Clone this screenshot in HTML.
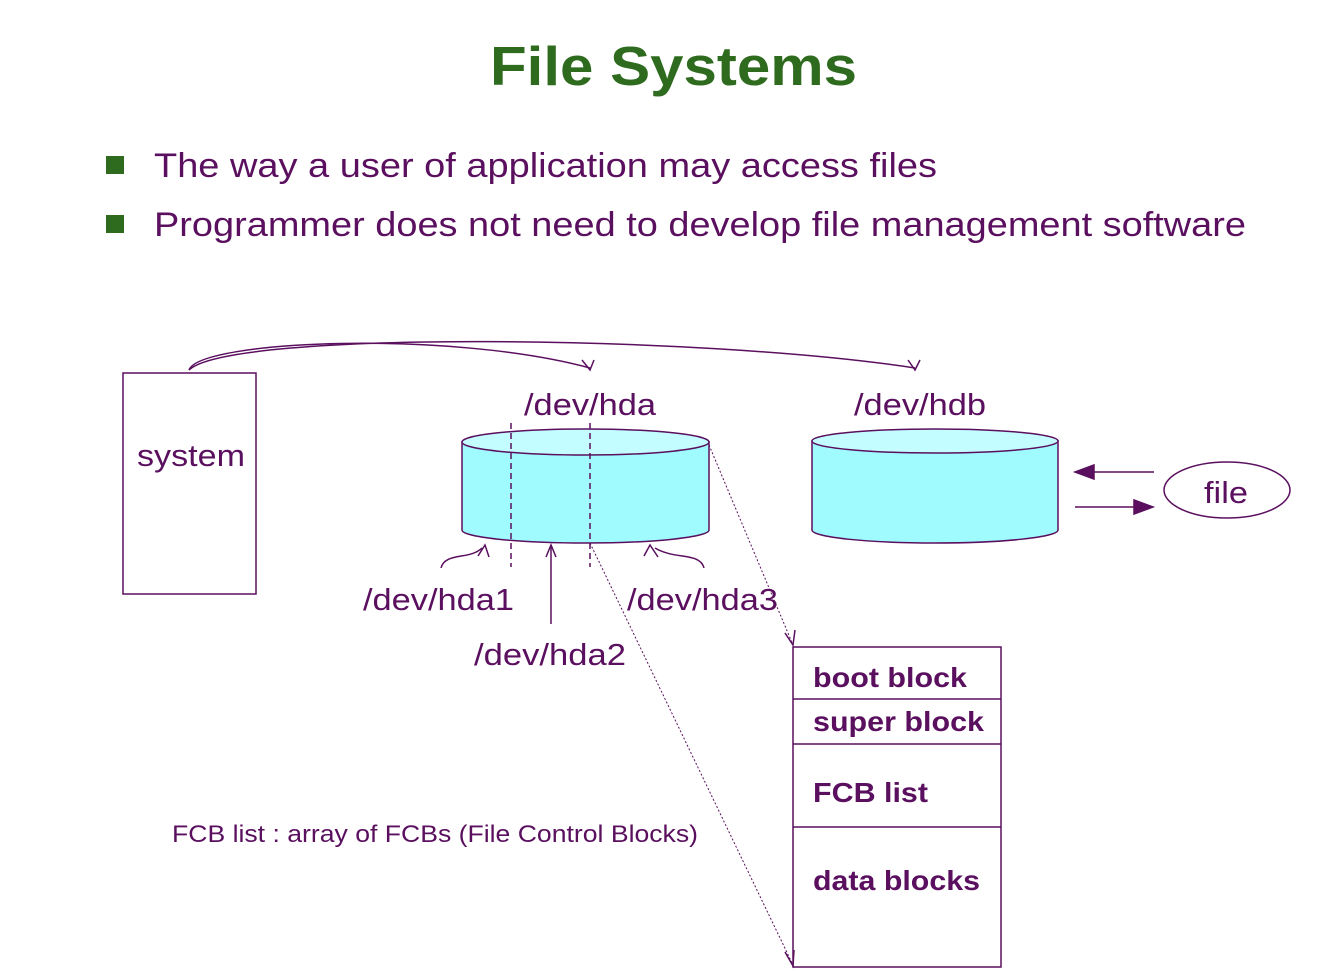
<!DOCTYPE html>
<html><head><style>body{margin:0;background:#fff}svg{display:block}</style></head><body>
<svg width="1336" height="974" viewBox="0 0 1336 974" xmlns="http://www.w3.org/2000/svg" font-family="Liberation Sans, sans-serif">
<text x="490" y="85" textLength="367" lengthAdjust="spacingAndGlyphs" font-size="55" font-weight="bold" fill="#2e6b1e">File Systems</text>
<rect x="106" y="156" width="18" height="18" fill="#2e6b1e"/>
<rect x="106" y="215" width="18" height="18" fill="#2e6b1e"/>
<g fill="#5a0f5f" font-size="34">
<text x="154" y="177" textLength="783" lengthAdjust="spacingAndGlyphs">The way a user of application may access files</text>
<text x="154" y="236" textLength="1092" lengthAdjust="spacingAndGlyphs">Programmer does not need to develop file management software</text>
</g>
<g stroke="#5a0f5f" stroke-width="1.5" fill="none">
<rect x="123" y="373" width="133" height="221"/>
<path d="M189 370 C200 340 450 330 590 368"/>
<path d="M582 360 L590 370 L594 360"/>
<path d="M189 370 C230 330 700 335 915 368"/>
<path d="M908 360 L915 370 L920 360"/>
<path d="M462 442 L462 530 A123.5 13 0 0 0 709 530 L709 442 Z" fill="#a0fbff"/>
<ellipse cx="585.5" cy="442" rx="123.5" ry="13" fill="#c4fdff"/>
<line x1="511" y1="423" x2="511" y2="567" stroke-dasharray="6,4"/>
<line x1="590" y1="423" x2="590" y2="567" stroke-dasharray="6,4"/>
<path d="M441 568 C445 552 470 560 482 548"/><path d="M478 556 L485 545 L489 557"/>
<line x1="551" y1="624" x2="551" y2="545"/><path d="M546 557 L551 545 L556 557"/>
<path d="M704 568 C700 552 675 560 655 548"/><path d="M644 556 L650 545 L658 557"/>
<path d="M812 441 L812 530 A123 13 0 0 0 1058 530 L1058 441 Z" fill="#a0fbff"/>
<ellipse cx="935" cy="441" rx="123" ry="12" fill="#c4fdff"/>
<ellipse cx="1227" cy="490" rx="63" ry="28"/>
<line x1="1154" y1="472" x2="1090" y2="472"/>
<path d="M1094 465 L1075 472 L1094 479 Z" fill="#5a0f5f"/>
<line x1="1075" y1="507" x2="1138" y2="507"/>
<path d="M1134 500 L1153 507 L1134 514 Z" fill="#5a0f5f"/>
<rect x="793" y="647" width="208" height="320"/>
<line x1="793" y1="699" x2="1001" y2="699"/>
<line x1="793" y1="744" x2="1001" y2="744"/>
<line x1="793" y1="827" x2="1001" y2="827"/>
<g stroke-width="1" stroke-dasharray="2,2">
<line x1="709" y1="445" x2="793" y2="645"/>
<line x1="590" y1="543" x2="793" y2="965"/>
</g>
<path d="M785 633 L793 645 L795 630"/>
<path d="M785 952 L793 966 L794 950"/>
</g>
<g fill="#5a0f5f" font-size="31" lengthAdjust="spacingAndGlyphs">
<text x="137" y="466" textLength="108" lengthAdjust="spacingAndGlyphs">system</text>
<text x="524" y="415" textLength="132" lengthAdjust="spacingAndGlyphs">/dev/hda</text>
<text x="854" y="415" textLength="132" lengthAdjust="spacingAndGlyphs">/dev/hdb</text>
<text x="1204" y="503" textLength="44" lengthAdjust="spacingAndGlyphs">file</text>
<text x="363" y="610" textLength="151" lengthAdjust="spacingAndGlyphs">/dev/hda1</text>
<text x="474" y="665" textLength="152" lengthAdjust="spacingAndGlyphs">/dev/hda2</text>
<text x="627" y="610" textLength="151" lengthAdjust="spacingAndGlyphs">/dev/hda3</text>
</g>
<g fill="#5a0f5f" font-size="28" font-weight="bold">
<text x="813" y="687" textLength="154" lengthAdjust="spacingAndGlyphs">boot block</text>
<text x="813" y="731" textLength="171" lengthAdjust="spacingAndGlyphs">super block</text>
<text x="813" y="802" textLength="115" lengthAdjust="spacingAndGlyphs">FCB list</text>
<text x="813" y="890" textLength="167" lengthAdjust="spacingAndGlyphs">data blocks</text>
</g>
<text x="172" y="842" fill="#5a0f5f" font-size="24" textLength="526" lengthAdjust="spacingAndGlyphs">FCB list : array of FCBs (File Control Blocks)</text>
</svg>
</body></html>
